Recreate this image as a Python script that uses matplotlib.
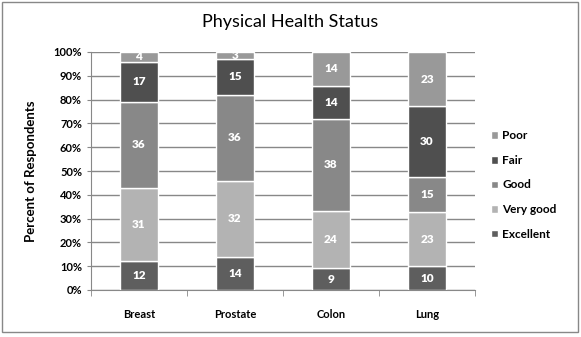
import numpy as np
import matplotlib.pyplot as plt
from matplotlib.patches import Rectangle

plt.rcParams['font.family'] = ['Lato', 'DejaVu Sans']

cancers = ["Breast", "Prostate", "Colon", "Lung"]
excellent = [12, 14, 9, 10]
very_good = [31, 32, 24, 23]
good = [36, 36, 38, 15]
fair = [17, 15, 14, 30]
poor = [4, 3, 14, 23]

series = [("Excellent", excellent, "#5e5e5e"),
          ("Very good", very_good, "#b3b3b3"),
          ("Good", good, "#888888"),
          ("Fair", fair, "#4f4f4f"),
          ("Poor", poor, "#999999")]

fig = plt.figure(figsize=(5.81, 3.37), dpi=100)
fig.patches.append(Rectangle((0.004, 0.015), 0.99, 0.978, transform=fig.transFigure,
                             fill=False, edgecolor="#888888", linewidth=1))
ax = fig.add_axes([91 / 581, 47 / 337, 384 / 581, 238 / 337])

totals = np.sum([s[1] for s in series], axis=0)
x = np.arange(len(cancers))
bottom = np.zeros(len(cancers))
handles = []
for name, vals, color in series:
    pct = np.array(vals) / totals * 100
    b = ax.bar(x, pct, 0.4, bottom=bottom, color=color, edgecolor="white",
               linewidth=1, label=name, zorder=3)
    handles.append(b)
    for xi, p, v, bt in zip(x, pct, vals, bottom):
        ax.text(xi, bt + p / 2, str(v), ha="center", va="center", color="white",
                fontsize=8.5, fontweight="heavy", zorder=4)
    bottom += pct

ax.set_xlim(-0.5, len(cancers) - 0.5)
ax.set_ylim(0, 100)
ax.set_yticks(np.arange(0, 101, 10))
ax.set_yticklabels([f"{v}%" for v in range(0, 101, 10)], fontsize=8, fontweight="bold")
ax.set_xticks(x)
ax.set_xticklabels(cancers, fontsize=8, fontweight="bold")
ax.set_xticks(np.arange(-0.5, len(cancers)), minor=True)
ax.tick_params(axis="x", which="major", length=0, pad=14)
ax.tick_params(axis="x", which="minor", length=4, color="#888888")
ax.tick_params(axis="y", length=3, color="#888888")
ax.yaxis.grid(True, color="#888888", linewidth=1, zorder=0)
for s in ["top", "right"]:
    ax.spines[s].set_visible(False)
for s in ["left", "bottom"]:
    ax.spines[s].set_color("#888888")

ax.set_ylabel("Percent of Respondents", fontsize=9.5, fontweight="bold", labelpad=12)
fig.text(0.5, 0.935, "Physical Health Status", ha="center", va="center", fontsize=13)

fig.legend(handles[::-1], [s[0] for s in series][::-1], loc="center left",
           bbox_to_anchor=(480 / 581, 1 - 185 / 337), frameon=False,
           handlelength=0.6, handleheight=0.6, labelspacing=1.15,
           handletextpad=0.4, prop={"weight": "bold", "size": 8.5})

fig.savefig("out.png", dpi=100)
